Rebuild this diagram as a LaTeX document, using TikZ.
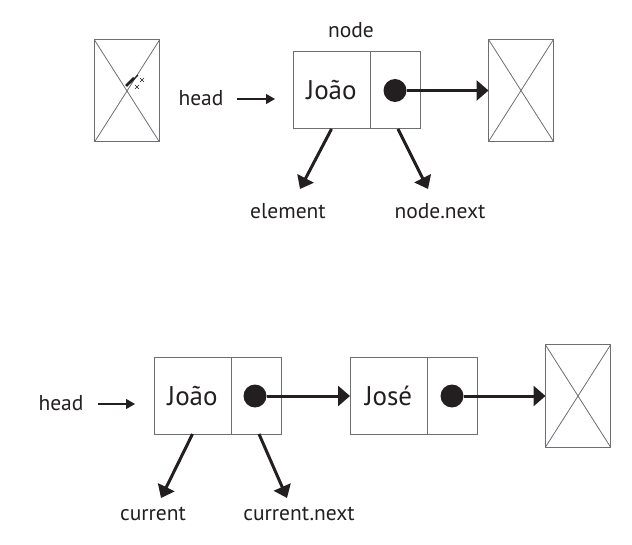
\documentclass[tikz,border=0pt]{standalone}
\usepackage{fontspec}
\setmainfont{PT Sans}
\usetikzlibrary{arrows.meta}
\definecolor{ink}{HTML}{231F20}
\definecolor{edgec}{HTML}{6D6E71}
\begin{document}
\begin{tikzpicture}[x=1pt,y=-1pt,
  cell/.style={draw=edgec, line width=1pt, minimum height=77pt, inner sep=0pt, outer sep=0pt, font=\fontsize{27}{31}\selectfont, text=ink},
  datacell/.style={cell, minimum width=77pt},
  ptrcell/.style={cell, minimum width=50pt},
  nullbox/.style={draw=edgec, line width=1pt, minimum width=65pt, minimum height=102pt, inner sep=0pt, outer sep=0pt},
  dot/.style={circle, fill=ink, minimum size=23pt, inner sep=0pt, outer sep=0pt},
  lbl/.style={font=\fontsize{21.5}{25}\selectfont, text=ink, inner sep=0pt},
  link/.style={draw=ink, line width=3pt, -{Triangle[length=12pt,width=20pt]}},
  ptr/.style={draw=ink, line width=3pt, -{Triangle[length=12pt,width=18pt]}},
  thinarrow/.style={draw=ink, line width=1.2pt, -{Triangle[length=9pt,width=10pt]}},
  crossline/.style={draw=edgec, line width=0.8pt}
]
\useasboundingbox (0,0) rectangle (632,545);

% ---------- top ----------
\node[nullbox] (nl) at (127,91) {};
\draw[crossline] (nl.north west) -- (nl.south east) (nl.north east) -- (nl.south west);
\draw[ink, line width=2.5pt] (126,86) -- (134,78);
\draw[ink, line width=1.2pt] (130,83) -- (138,75);
\draw[ink, line width=0.6pt] (140,78) -- (144,82) (140,82) -- (144,78)
                             (135,85) -- (139,89) (135,89) -- (139,85);

\node[lbl] (head1) at (201,98) {head};
\coordinate (h1s) at (237,99);
\coordinate (h1e) at (275,99);
\draw[thinarrow] (h1s) -- (h1e);

\node[datacell] (d1) at (331.5,90.5) {João};
\node[ptrcell] (p1) at (395,90.5) {};
\node[dot] (dot1) at (p1.center) {};
\node[lbl] (nodelbl) at (351,30) {node};
\node[nullbox] (nr1) at (521,90.5) {};
\draw[crossline] (nr1.north west) -- (nr1.south east) (nr1.north east) -- (nr1.south west);
\draw[link] (dot1.east) -- (nr1.west);

\node[lbl] (elem) at (288,211) {element};
\node[lbl] (nnext) at (440,211) {node.next};
\coordinate (t1) at (300,189);
\coordinate (t2) at (428,189);
\draw[ptr] (d1.south) -- (t1);
\draw[ptr] ([xshift=3pt]p1.south) -- (t2);

% ---------- bottom ----------
\node[lbl] (head2) at (61,403) {head};
\coordinate (h2s) at (98,404);
\coordinate (h2e) at (135,404);
\draw[thinarrow] (h2s) -- (h2e);

\node[datacell, minimum height=76pt] (d2) at (192.5,396) {João};
\node[ptrcell, minimum height=76pt] (p2) at (256,396) {};
\node[dot] (dot2) at (255,396) {};

\node[datacell, minimum height=76pt] (d3) at (388.5,396) {José};
\node[ptrcell, minimum height=76pt] (p3) at (452,396) {};
\node[dot] (dot3) at (452,396) {};

\node[nullbox] (nr2) at (578,396) {};
\draw[crossline] (nr2.north west) -- (nr2.south east) (nr2.north east) -- (nr2.south west);

\draw[link] (dot2.east) -- (d3.west);
\draw[link] (dot3.east) -- (nr2.west);

\node[lbl] (cur) at (153,514) {current};
\node[lbl] (curnext) at (299,514) {current.next};
\coordinate (t3) at (161,498);
\coordinate (t4) at (287,498);
\draw[ptr] (d2.south) -- (t3);
\draw[ptr] ([xshift=3pt]p2.south) -- (t4);
\end{tikzpicture}
\end{document}
